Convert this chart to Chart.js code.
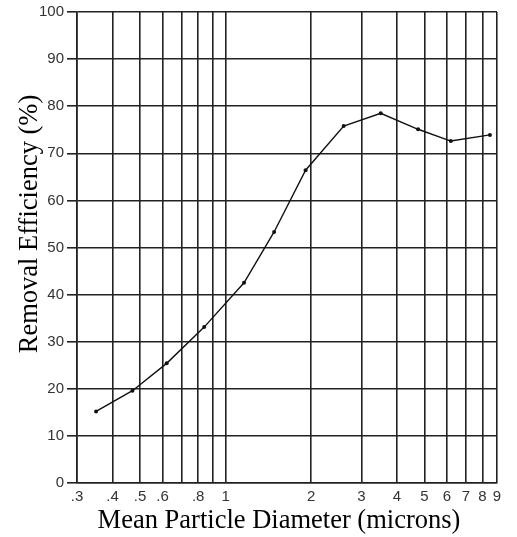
<!DOCTYPE html>
<html>
<head>
<meta charset="utf-8">
<script src="https://cdn.jsdelivr.net/npm/chart.js@4/dist/chart.umd.min.js"></script>
<style>
  html,body{margin:0;padding:0;background:#fff;}
  #wrap{width:517px;height:537px;position:relative;}
</style>
</head>
<body>
<div id="wrap"><canvas id="c"></canvas></div>
<script>
// diameters (microns) and removal efficiency (%)
const diameters = [0.35, 0.47, 0.62, 0.84, 1.16, 1.48, 1.91, 2.6, 3.51, 4.75, 6.19, 8.5];
const efficiency = [15.2, 19.6, 25.4, 33.1, 42.5, 53.3, 66.4, 75.8, 78.5, 75.1, 72.6, 73.9];

const xTicks = [0.3,0.4,0.5,0.6,0.7,0.8,0.9,1,2,3,4,5,6,7,8,9];
const xHidden = [0.7, 0.9];

const xTitle = "Mean Particle Diameter (microns)";
const yTitle = "Removal Efficiency (%)";

const pts = diameters.map((d,i)=>({x:d, y:efficiency[i]}));

function fmtX(v){
  if(xHidden.includes(v)) return "";
  if(v < 1) return "." + Math.round(v*10);
  return String(v);
}

// axis titles drawn by hand so they can sit where the original has them
const titles = {
  id:"titles",
  afterDraw(chart){
    const ctx = chart.ctx;
    ctx.save();
    ctx.fillStyle = "#000";
    ctx.font = "26.5px 'Liberation Serif', 'Times New Roman', serif";
    ctx.textAlign = "center";
    ctx.textBaseline = "alphabetic";
    ctx.fillText(xTitle, 279, 528);
    ctx.translate(37, 224);
    ctx.rotate(-Math.PI/2);
    ctx.fillText(yTitle, 0, 0);
    ctx.restore();
  }
};

new Chart(document.getElementById("c"),{
  type:"line",
  data:{ datasets:[{
    data: pts,
    borderColor:"#111",
    borderWidth:1.4,
    pointRadius:2,
    pointBackgroundColor:"#111",
    pointBorderWidth:0,
    tension:0,
    fill:false
  }]},
  options:{
    responsive:true,
    maintainAspectRatio:false,
    animation:false,
    layout:{padding:{top:5,right:20,left:36,bottom:26}},
    plugins:{legend:{display:false},tooltip:{enabled:false}},
    scales:{
      x:{
        type:"logarithmic",
        min:0.3, max:9,
        afterBuildTicks:(ax)=>{ ax.ticks = xTicks.map(v=>({value:v})); },
        ticks:{
          callback:(v)=>fmtX(v),
          autoSkip:false, maxRotation:0,
          color:"#333",
          font:{family:"Liberation Sans, Arial, sans-serif", size:15},
          padding:5
        },
        grid:{color:"#222", lineWidth:1.6, drawTicks:false},
        border:{color:"#222", width:1.6}
      },
      y:{
        min:0, max:100,
        ticks:{
          stepSize:10,
          color:"#333",
          font:{family:"Liberation Sans, Arial, sans-serif", size:15},
          padding:3
        },
        grid:{color:"#222", lineWidth:1.6, drawTicks:true, tickLength:10},
        border:{color:"#222", width:1.6}
      }
    }
  },
  plugins:[titles]
});
</script>
</body>
</html>
